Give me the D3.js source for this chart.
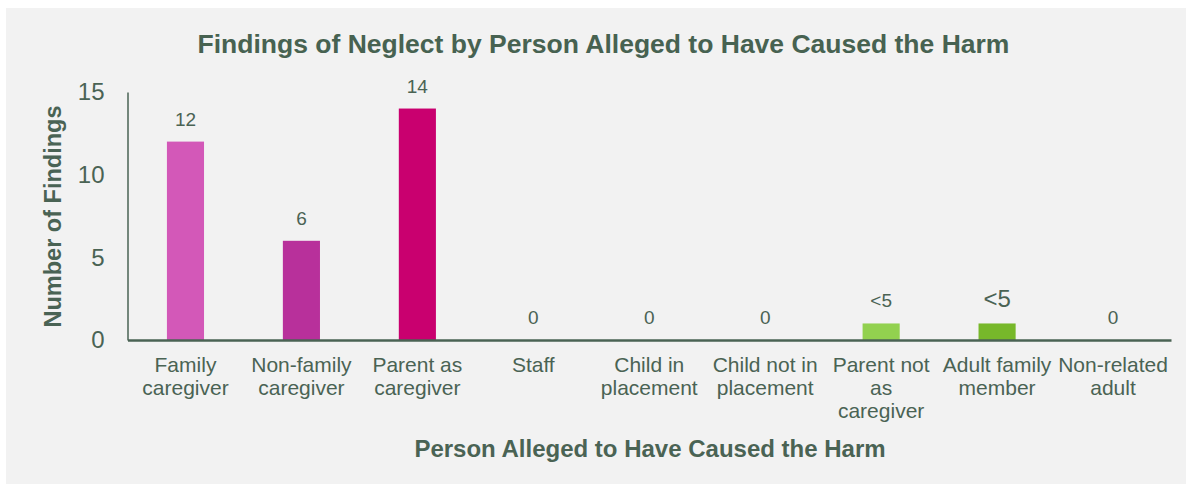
<!DOCTYPE html>
<html>
<head>
<meta charset="utf-8">
<script src="https://cdn.jsdelivr.net/npm/d3@7"></script>
<style>
  html, body { margin: 0; padding: 0; background: #ffffff; }
  svg { display: block; }
  text { font-family: "Liberation Sans", Arial, sans-serif; }
</style>
</head>
<body>
<svg id="chart" width="1187" height="484"></svg>
<script>
const categories = [
  ["Family", "caregiver"],
  ["Non-family", "caregiver"],
  ["Parent as", "caregiver"],
  ["Staff"],
  ["Child in", "placement"],
  ["Child not in", "placement"],
  ["Parent not", "as", "caregiver"],
  ["Adult family", "member"],
  ["Non-related", "adult"]
];
const values = [12, 6, 14, 0, 0, 0, 1, 1, 0];
const valueLabels = ["12", "6", "14", "0", "0", "0", "<5", "<5", "0"];
const barColors = ["#D358B8", "#B8309B", "#C9006F", "#C9006F", "#C9006F", "#C9006F", "#92D14F", "#77B82A", "#77B82A"];
const yTicks = [0, 5, 10, 15];
const titleText = "Findings of Neglect by Person Alleged to Have Caused the Harm";
const xTitleText = "Person Alleged to Have Caused the Harm";
const yTitleText = "Number of Findings";

(function () {
const textColor = "#4A6354";
const svg = d3.select("#chart");

svg.append("rect").attr("x", 6).attr("y", 8).attr("width", 1180).attr("height", 476).attr("fill", "#F2F2F2");

const pl = 127.5, pr = 1171, pt = 92, pb = 340;
const x = d3.scaleBand().domain(d3.range(categories.length)).range([pl, pr]).paddingInner(0.68).paddingOuter(0.34);
const y = d3.scaleLinear().domain([0, 15]).range([pb, pt]);

// bars
svg.append("g").selectAll("rect").data(values).join("rect")
  .attr("x", (d, i) => x(i))
  .attr("y", d => y(d))
  .attr("width", x.bandwidth())
  .attr("height", d => y(0) - y(d))
  .attr("fill", (d, i) => barColors[i]);

// value labels
svg.append("g").selectAll("text").data(values).join("text")
  .attr("x", (d, i) => x(i) + x.bandwidth() / 2)
  .attr("y", d => y(d) - 16)
  .attr("text-anchor", "middle")
  .attr("font-size", (d, i) => i === 7 ? 24 : 19)
  .attr("fill", textColor)
  .text((d, i) => valueLabels[i]);

// y axis
const yAxis = svg.append("g").attr("transform", `translate(${pl},0)`)
  .call(d3.axisLeft(y).tickValues(yTicks).tickSize(0).tickPadding(23));
yAxis.select(".domain").attr("stroke", textColor).attr("stroke-width", 1.5);
yAxis.selectAll("text").attr("font-size", 24).attr("fill", textColor)
  .attr("font-family", '"Liberation Sans", Arial, sans-serif');

// x axis
const xAxis = svg.append("g").attr("transform", `translate(0,${pb})`)
  .call(d3.axisBottom(x).tickSize(0).tickFormat(() => ""));
xAxis.select(".domain").attr("stroke", textColor).attr("stroke-width", 2.5);

// category labels
const catG = svg.append("g");
categories.forEach((lines, i) => {
  const cx = x(i) + x.bandwidth() / 2;
  const t = catG.append("text")
    .attr("x", cx)
    .attr("y", 372)
    .attr("text-anchor", "middle")
    .attr("font-size", 21)
    .attr("fill", textColor);
  lines.forEach((ln, j) => {
    t.append("tspan").attr("x", cx).attr("dy", j === 0 ? 0 : 23).text(ln);
  });
});

// titles
svg.append("text").attr("x", 603.5).attr("y", 53).attr("text-anchor", "middle")
  .attr("font-size", 26.5).attr("font-weight", "bold").attr("fill", "#476251").text(titleText);
svg.append("text").attr("x", 650).attr("y", 457).attr("text-anchor", "middle")
  .attr("font-size", 24).attr("font-weight", "bold").attr("fill", textColor).text(xTitleText);
svg.append("text").attr("transform", `translate(61,216.5) rotate(-90)`)
  .attr("text-anchor", "middle")
  .attr("font-size", 23.5).attr("font-weight", "bold").attr("fill", textColor).text(yTitleText);
})();
</script>
</body>
</html>
